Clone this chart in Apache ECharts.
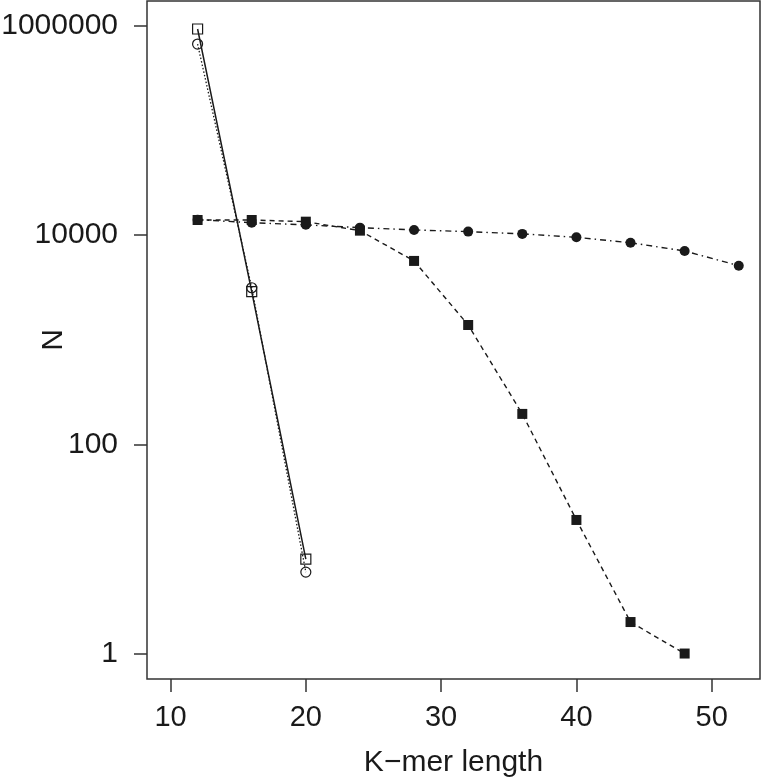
<!DOCTYPE html>
<html>
<head>
<meta charset="utf-8">
<script src="https://cdn.jsdelivr.net/npm/echarts@6/dist/echarts.min.js"></script>
<style>html,body{margin:0;padding:0;background:#fff}#c{width:762px;height:784px}</style>
</head>
<body>
<div id="c"></div>
<script>
// Data
var kOpen = [12, 16, 20];
var openSquares = [930000, 2870, 8];
var openCircles = [668000, 3130, 6];
var kFilledSquares = [12, 16, 20, 24, 28, 32, 36, 40, 44, 48];
var filledSquares = [13900, 13900, 13400, 11000, 5650, 1380, 195, 18.9, 2, 1];
var kFilledCircles = [12, 16, 20, 24, 28, 32, 36, 40, 44, 48, 52];
var filledCircles = [14000, 13100, 12500, 11750, 11170, 10770, 10240, 9500, 8430, 7030, 5090];
var xTicks = [10, 20, 30, 40, 50];
var yTicks = [1, 100, 10000, 1000000];

function pairs(xs, ys) { return xs.map(function (x, i) { return [x, ys[i]]; }); }

var ink = '#1a1a1a';
var font = 'Liberation Sans, Arial, Helvetica, sans-serif';
var chart = echarts.init(document.getElementById('c'), null, { renderer: 'canvas' });
chart.setOption({
  animation: false,
  backgroundColor: '#fff',
  grid: { left: 147, right: 2, top: 1, bottom: 105, containLabel: false, outerBoundsMode: 'none',
          show: true, borderColor: '#333', borderWidth: 1.5, backgroundColor: 'transparent' },
  xAxis: {
    type: 'value', min: 8.26, max: 53.57,
    name: 'K\u2212mer length', nameLocation: 'middle', nameGap: 69, nameMoveOverlap: false,
    nameTextStyle: { fontFamily: font, fontSize: 30, color: ink },
    axisLine: { show: false },
    splitLine: { show: false },
    axisTick: { show: true, inside: false, length: 13, customValues: xTicks, lineStyle: { color: '#333', width: 1.5 } },
    axisLabel: { customValues: xTicks, margin: 24, fontFamily: font, fontSize: 29, color: ink,
                 formatter: function (v) { return String(v); } }
  },
  yAxis: {
    type: 'log', logBase: 10, min: 0.571, max: 1722000,
    name: 'N', nameLocation: 'middle', nameGap: 78, nameMoveOverlap: false,
    nameTextStyle: { fontFamily: font, fontSize: 30, color: ink },
    axisLine: { show: false },
    splitLine: { show: false },
    axisTick: { show: true, inside: false, length: 13, customValues: yTicks, lineStyle: { color: '#333', width: 1.5 } },
    axisLabel: { customValues: yTicks, margin: 29, fontFamily: font, fontSize: 30, color: ink,
                 formatter: function (v) { return String(Math.round(v)); } }
  },
  series: [
    {
      type: 'line', data: pairs(kFilledCircles, filledCircles), symbol: 'circle', symbolSize: 10,
      lineStyle: { color: ink, width: 1.4, type: [6, 4, 1.5, 4] },
      itemStyle: { color: ink }, z: 2
    },
    {
      type: 'line', data: pairs(kFilledSquares, filledSquares), symbol: 'rect', symbolSize: 10,
      lineStyle: { color: ink, width: 1.4, type: [5, 4] },
      itemStyle: { color: ink }, z: 3
    },
    {
      type: 'line', data: pairs(kOpen, openCircles), symbol: 'circle', symbolSize: 10,
      lineStyle: { color: ink, width: 1.3, type: [1.5, 2] },
      itemStyle: { color: 'rgba(0,0,0,0)', borderColor: ink, borderWidth: 1.2 }, z: 4
    },
    {
      type: 'line', data: pairs(kOpen, openSquares), symbol: 'rect', symbolSize: 10,
      lineStyle: { color: ink, width: 1.5, type: 'solid' },
      itemStyle: { color: 'rgba(0,0,0,0)', borderColor: ink, borderWidth: 1.2 }, z: 5
    }
  ]
});
</script>
</body>
</html>
